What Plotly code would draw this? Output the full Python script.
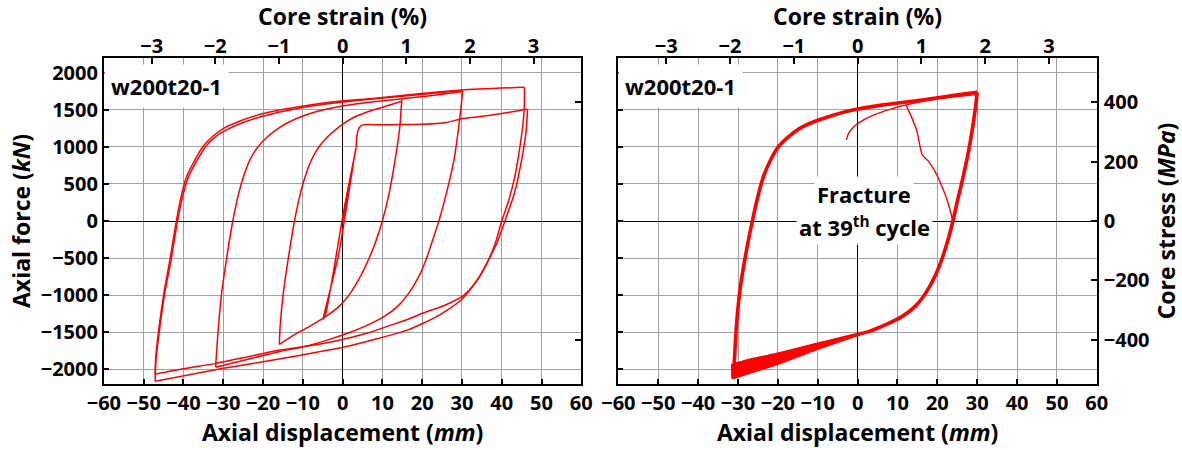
import plotly.graph_objects as go

# ---------------- data ----------------
# Left specimen: displacement (mm) / force (kN)
elastic_d = [0.0, 3.3, 3.0, -1.0, -4.6, -4.9, -4.2, 0.5, 3.4]
elastic_f = [0, 975, 880, -450, -1250, -1330, -1240, 200, 990]

plateau_d = [3.4, 3.6, 4.2, 5.0, 8.0, 12.0, 16.0, 20.0, 26.1, 29.4, 33.0, 37.1, 42.0, 46.3]
plateau_f = [990, 1150, 1260, 1298, 1300, 1300, 1302, 1305, 1329, 1374, 1400, 1427, 1468, 1512]

loop1_asc_d = [-15.9, -15.7, -14.9, -13.7, -12.1, -10.6, -9.4, -7.8, -5.9, -3.7, -0.8, 2.4, 6.5, 10.6, 14.9]
loop1_asc_f = [-1666, -1419, -970, -521, 0, 377, 602, 826, 1006, 1140, 1275, 1387, 1477, 1545, 1615]
loop1_desc_d = [14.9, 14.7, 14.4, 13.2, 11.7, 10.0, 8.2, 6.5, 4.5, 2.0, -0.8, -4.1, -8.2, -12.7, -15.9]
loop1_desc_f = [1643, 1500, 1275, 826, 377, 0, -296, -521, -745, -970, -1149, -1284, -1419, -1554, -1666]

loop2_asc_d = [-31.9, -31.8, -31.2, -30.4, -29.2, -27.6, -26.1, -24.9, -23.3, -21.2, -18.8, -15.5, -11.4, -6.5, -0.8, 8.2, 20.4, 30.1]
loop2_asc_f = [-1975, -1868, -1419, -970, -521, 0, 377, 602, 826, 1006, 1140, 1275, 1387, 1477, 1545, 1612, 1679, 1747]
loop2_desc_d = [30.2, 29.9, 29.2, 28.0, 26.1, 24.2, 22.4, 21.0, 19.2, 16.7, 13.9, 10.6, 5.7, 1.6, -3.3, -9.0, -16.0, -24.0, -31.9]
loop2_desc_f = [1760, 1600, 1275, 826, 377, 0, -296, -521, -745, -970, -1149, -1284, -1419, -1509, -1598, -1688, -1765, -1870, -1975]

loop3_desc_a_d = [46.5, 46.4, 46.1, 45.0, 43.2, 40.8, 38.8, 36.7, 34.6, 32.4, 29.5, 24.0, 16.3, 8.0, 0.7, -10.5, -20.0, -30.3, -47.1]
loop3_desc_a_f = [1512, 1420, 1200, 826, 377, 0, -296, -521, -730, -900, -1080, -1280, -1473, -1600, -1698, -1811, -1900, -1991, -2162]
loop3_asc_a_d = [-47.1, -47.0, -46.1, -44.9, -43.4, -41.8, -40.4, -39.2, -37.1, -35.1, -32.7, -29.8, -26.1, -21.2, -15.5, -8.2, -1.6, 8.2, 20.4, 30.0, 45.7]
loop3_asc_a_f = [-2162, -1868, -1419, -970, -521, 0, 377, 602, 826, 1006, 1140, 1253, 1343, 1432, 1500, 1567, 1612, 1657, 1724, 1769, 1805]
loop3_desc_b_d = [45.7, 45.7, 45.5, 44.7, 43.3, 41.8, 40.0, 38.4, 36.2, 33.6, 30.5, 26.0, 20.4, 16.3, 11.4, 6.5, 0.0, -8.0, -16.1, -24.0, -32.1, -40.0, -47.1]
loop3_desc_b_f = [1805, 1600, 1400, 1051, 602, 287, 0, -296, -580, -820, -1000, -1130, -1239, -1329, -1419, -1509, -1598, -1680, -1745, -1835, -1925, -1995, -2068]
loop3_asc_b_d = [-47.1, -46.9, -45.9, -44.7, -43.1, -41.5, -40.0, -38.7, -36.5, -34.4, -31.9, -28.8, -25.0, -20.0, -14.5, -7.5, -1.0, 8.2, 20.4, 30.0]
loop3_asc_b_f = [-2068, -1868, -1419, -970, -521, 0, 377, 602, 826, 1006, 1140, 1240, 1330, 1415, 1485, 1555, 1600, 1650, 1712, 1760]

# Right specimen: repeated cycles at about 2% strain
main_asc_d = [-31.2, -30.9, -30.4, -29.6, -28.3, -26.4, -24.8, -23.6, -21.8, -19.8, -17.3, -14.4, -10.8, -5.9, -1.0, 6.4, 16.2, 25.1, 30.0]
main_asc_f = [-2128, -1868, -1419, -970, -521, 0, 377, 602, 826, 1006, 1140, 1253, 1343, 1432, 1500, 1567, 1634, 1702, 1738]
main_desc_d = [30.0, 29.5, 28.2, 26.5, 25.1, 23.9, 22.7, 21.1, 19.4, 17.1, 14.5, 11.3, 7.2, 3.1, 0.0, -10.0, -19.8, -30.8, -31.2]
main_desc_f = [1738, 1500, 1051, 602, 287, 0, -251, -521, -745, -970, -1149, -1284, -1396, -1486, -1531, -1666, -1800, -1949, -2128]
band_d = [-31.3, -19.8, -10, 0, 0, -10, -19.8, -31.2, -31.6, -31.6]
band_f = [-1925, -1780, -1645, -1535, -1548, -1735, -1935, -2130, -2080, -1930]
first_d = [-2.8, -2.3, -1.0, 1.5, 4.0, 6.4, 9.0, 12.1, 19.4, 30.0]
first_f = [1096, 1180, 1270, 1365, 1430, 1477, 1520, 1567, 1643, 1705]
fracture_d = [12.1, 13.3, 14.9, 16.2, 17.8, 19.4, 21.5, 22.7, 23.9]
fracture_f = [1567, 1432, 1208, 894, 804, 669, 422, 242, 0]

x_ticks = [-60, -50, -40, -30, -20, -10, 0, 10, 20, 30, 40, 50, 60]
force_ticks = [-2000, -1500, -1000, -500, 0, 500, 1000, 1500, 2000]
strain_ticks = [-3, -2, -1, 0, 1, 2, 3]
stress_ticks = [-400, -200, 0, 200, 400]

# ---------------- figure ----------------
RED = "#ff0000"
FONT = "Open Sans"
fig = go.Figure()

def line(xs, ys, xa, ya, w=1.5):
    fig.add_trace(go.Scatter(x=xs, y=ys, mode="lines", xaxis=xa, yaxis=ya,
                             line=dict(color=RED, width=w, shape="spline", smoothing=0.6),
                             hoverinfo="skip", showlegend=False))

for xs, ys in [(elastic_d, elastic_f), (plateau_d, plateau_f),
               (loop1_asc_d, loop1_asc_f), (loop1_desc_d, loop1_desc_f),
               (loop2_asc_d, loop2_asc_f), (loop2_desc_d, loop2_desc_f),
               (loop3_desc_a_d, loop3_desc_a_f), (loop3_asc_a_d, loop3_asc_a_f),
               (loop3_desc_b_d, loop3_desc_b_f), (loop3_asc_b_d, loop3_asc_b_f)]:
    line(xs, ys, "x", "y")

fig.add_trace(go.Scatter(x=band_d, y=band_f, mode="lines", fill="toself", fillcolor=RED,
                         line=dict(color=RED, width=1), xaxis="x2", yaxis="y2",
                         hoverinfo="skip", showlegend=False))
line(main_asc_d, main_asc_f, "x2", "y2", 3.6)
line(main_desc_d, main_desc_f, "x2", "y2", 3.6)
line(first_d, first_f, "x2", "y2", 1.4)
line(fracture_d, fracture_f, "x2", "y2", 1.4)

# dummy traces so overlay axes are drawn
for xa, ya in [("x3", "y"), ("x", "y3"), ("x4", "y2"), ("x2", "y4")]:
    fig.add_trace(go.Scatter(x=[None], y=[None], xaxis=xa, yaxis=ya, showlegend=False, hoverinfo="skip"))

W, H = 1182, 450
domL = [89 / W, 578 / W]
domR = [616 / W, 1106 / W]
domY = [1 - 384 / H, 1 - 58 / H]

tickfont = dict(family=FONT, size=20, color="black", weight="bold")
titlefont = dict(family=FONT, size=23, color="black", weight="bold")
grid = dict(showgrid=True, gridcolor="#a0a0a0", gridwidth=1.4,
            zeroline=True, zerolinecolor="black", zerolinewidth=1,
            showline=True, linecolor="black", linewidth=2, mirror=True,
            ticks="inside", ticklen=5, tickcolor="black", tickwidth=1.5,
            tickfont=tickfont)

xcommon = dict(range=[-60, 60], tickvals=x_ticks, **grid)
ycommon = dict(range=[-2200, 2200], tickvals=force_ticks, **grid)
top_common = dict(range=[-3.75, 3.75], tickvals=strain_ticks, side="top", showgrid=False,
                  zeroline=False, ticks="inside", ticklen=6, tickcolor="black", tickwidth=1.5,
                  tickfont=tickfont, showline=False,
                  title=dict(text="Core strain (%)", font=titlefont, standoff=2))
right_common = dict(range=[-550, 550], side="right", showgrid=False, zeroline=False,
                    ticks="inside", ticklen=6, tickcolor="black", tickwidth=1.5,
                    tickfont=tickfont, showline=False, ticklabelstandoff=6)

fig.update_layout(
    width=W, height=H, margin=dict(l=0, r=0, t=0, b=0),
    paper_bgcolor="white", plot_bgcolor="white",
    font=dict(family=FONT, color="black"),
    xaxis=dict(domain=domL, anchor="y",
               title=dict(text="Axial displacement (<i>mm</i>)", font=titlefont, standoff=0), **xcommon),
    yaxis=dict(domain=domY, anchor="x",
               title=dict(text="Axial force (<i>kN</i>)", font=titlefont, standoff=4), **ycommon),
    xaxis2=dict(domain=domR, anchor="y2",
                title=dict(text="Axial displacement (<i>mm</i>)", font=titlefont, standoff=0), **xcommon),
    yaxis2=dict(domain=domY, anchor="x2", showticklabels=False, **ycommon),
    xaxis3=dict(overlaying="x", anchor="y", **top_common),
    yaxis3=dict(overlaying="y", anchor="x", tickvals=[-400, 400], showticklabels=False, **right_common),
    xaxis4=dict(overlaying="x2", anchor="y2", **top_common),
    yaxis4=dict(overlaying="y2", anchor="x2", tickvals=stress_ticks,
                title=dict(text="Core stress (<i>MPa</i>)", font=titlefont, standoff=4), **right_common),
)

label_font = dict(family=FONT, size=22, color="black", weight="bold")
for xr, yr in [("x domain", "y domain"), ("x2 domain", "y2 domain")]:
    fig.add_annotation(text="w200t20-1", xref=xr, yref=yr, x=0.0, y=0.915,
                       xanchor="left", yanchor="middle", showarrow=False,
                       font=label_font, bgcolor="white", borderpad=6)

fig.add_annotation(text="Fracture", xref="x2", yref="y2", x=1.7, y=370,
                   showarrow=False, font=label_font, bgcolor="white", borderpad=2)
fig.add_annotation(text="at 39<sup>th</sup> cycle", xref="x2", yref="y2", x=1.7, y=-75,
                   showarrow=False, font=label_font, bgcolor="white", borderpad=2)

fig.write_html("out.html")
